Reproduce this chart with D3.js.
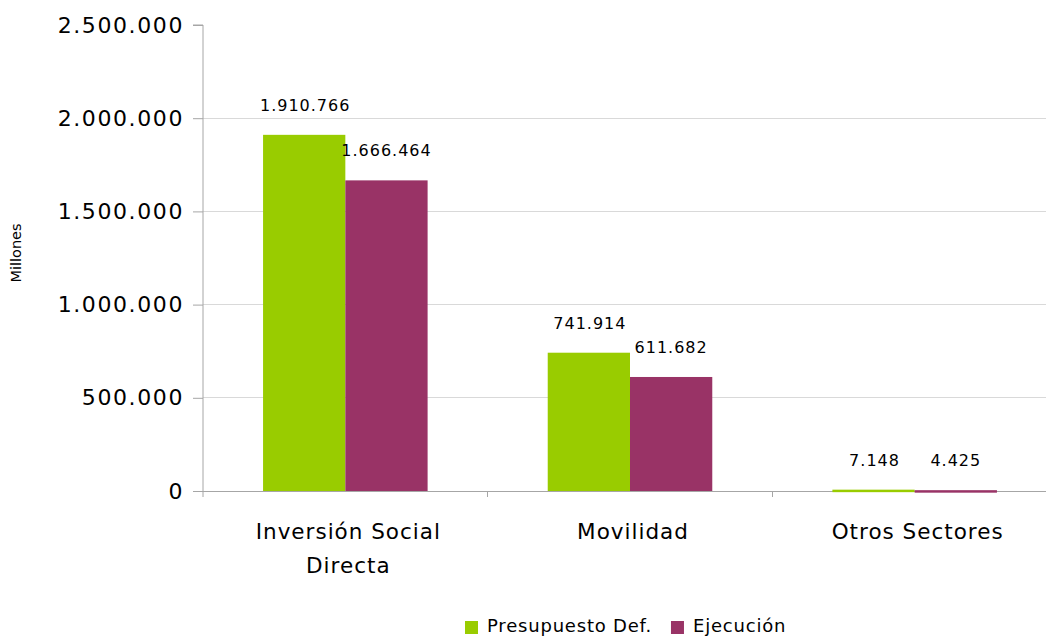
<!DOCTYPE html>
<html><head><meta charset="utf-8">
<script src="https://cdn.jsdelivr.net/npm/d3@7"></script>
<style>
body{margin:0;background:#fff;}
svg{display:block;}
text{font-family:"DejaVu Sans",Verdana,sans-serif;fill:#000;}
</style></head>
<body>
<svg id="chart" width="1046" height="636"></svg>
<script>
const categories = [["Inversión Social", "Directa"], ["Movilidad"], ["Otros Sectores"]];
const seriesNames = ["Presupuesto Def.", "Ejecución"];
const presupuesto = [1910766, 741914, 7148];
const ejecucion = [1666464, 611682, 4425];
const yTicks = [0, 500000, 1000000, 1500000, 2000000, 2500000];
const colors = ["#99CC00", "#993366"];

(function(){
const svg = d3.select("#chart");
const pL = 203, pR = 1057, pT = 25, pB = 491;
const catKeys = categories.map((c, i) => i);
const x = d3.scaleBand().domain(catKeys).range([pL, pR]).paddingInner(0).paddingOuter(0);
const xs = d3.scaleBand().domain([0, 1]).range([0, x.bandwidth()]).paddingOuter(0.73).paddingInner(0);
const y = d3.scaleLinear().domain([0, 2500000]).range([pB, pT]);
const fmt = v => d3.format(",")(v).replace(/,/g, ".");

// gridlines
svg.append("g").selectAll("line").data(yTicks.filter(t => t > 0 && t < 2500000)).join("line")
  .attr("x1", pL).attr("x2", pR).attr("y1", d => y(d)).attr("y2", d => y(d))
  .attr("stroke", "#d9d9d9").attr("stroke-width", 1).attr("shape-rendering", "crispEdges");

// y axis
const yAxis = d3.axisLeft(y).tickValues(yTicks).tickFormat(fmt).tickSize(10).tickPadding(9);
const yg = svg.append("g").attr("transform", `translate(${pL},0)`).call(yAxis);
yg.select(".domain").attr("stroke", "#a6a6a6").attr("d", `M-10,${pT}H0V${pB+6}`);
yg.selectAll(".tick line").attr("stroke", "#a6a6a6");
yg.selectAll(".tick text").attr("font-size", 22).attr("letter-spacing", "1.6px").attr("fill", "#000")
  .attr("font-family", "DejaVu Sans");

// x axis
svg.append("line").attr("x1", pL).attr("x2", pR).attr("y1", pB).attr("y2", pB)
  .attr("stroke", "#a6a6a6").attr("shape-rendering", "crispEdges");
svg.append("g").selectAll("line").data(catKeys.slice(1)).join("line")
  .attr("x1", d => x(d)).attr("x2", d => x(d)).attr("y1", pB).attr("y2", pB + 6)
  .attr("stroke", "#a6a6a6").attr("shape-rendering", "crispEdges");

// bars
const series = [presupuesto, ejecucion];
series.forEach((vals, si) => {
  const g = svg.append("g");
  g.selectAll("rect").data(vals).join("rect")
    .attr("x", (d, i) => x(i) + xs(si))
    .attr("width", xs.bandwidth())
    .attr("y", d => y(d))
    .attr("height", d => Math.max(pB - y(d), 2.5))
    .attr("fill", colors[si]);
  g.selectAll("text").data(vals).join("text")
    .attr("x", (d, i) => x(i) + xs(si) + xs.bandwidth() / 2 + (si === 0 ? 1 : 0))
    .attr("y", d => y(d) - 24)
    .attr("text-anchor", "middle")
    .attr("font-size", 16).attr("letter-spacing", "1px")
    .text(d => fmt(d));
});

// category labels
categories.forEach((lines, i) => {
  const t = svg.append("text").attr("text-anchor", "middle").attr("font-size", 21.5).attr("letter-spacing", "1px");
  lines.forEach((ln, k) => {
    t.append("tspan").attr("x", x(i) + x.bandwidth() / 2 + 3).attr("y", 539 + k * 34).text(ln);
  });
});

// y title
svg.append("text").attr("transform", "translate(21,253) rotate(-90)").attr("text-anchor", "middle")
  .attr("font-size", 14.5).text("Millones");

// legend
const lg = svg.append("g");
let lx = 465;
seriesNames.forEach((n, i) => {
  lg.append("rect").attr("x", lx).attr("y", 621).attr("width", 13).attr("height", 13).attr("fill", colors[i]);
  const t = lg.append("text").attr("x", lx + 22).attr("y", 632).attr("font-size", 18).attr("letter-spacing", "0.8px").text(n);
  lx += 22 + t.node().getComputedTextLength() + 19;
});
})();
</script>
</body></html>
